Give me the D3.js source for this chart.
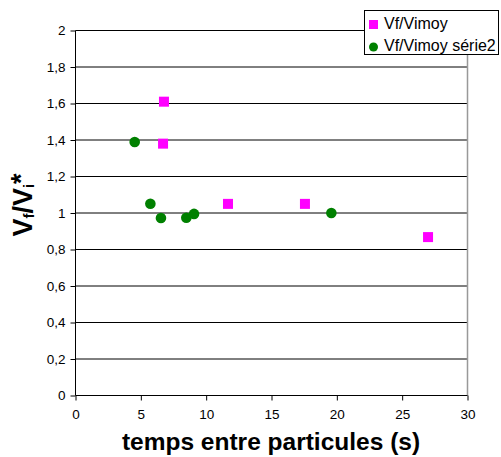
<!DOCTYPE html>
<html><head><meta charset="utf-8">
<script src="https://cdn.jsdelivr.net/npm/d3@7"></script>
<style>body{margin:0;background:#fff}svg{display:block}</style>
</head><body>
<script>
const series1Name = "Vf/Vimoy";
const series1X = [6.77, 6.7, 11.67, 17.56, 26.98];
const series1Y = [1.61, 1.38, 1.05, 1.05, 0.868];
const series2Name = "Vf/Vimoy série2";
const series2X = [4.53, 5.73, 6.54, 8.48, 9.07, 19.58];
const series2Y = [1.389, 1.051, 0.973, 0.974, 0.995, 1.0];
const xTicks = [0, 5, 10, 15, 20, 25, 30];
const yTicks = [0, 0.2, 0.4, 0.6, 0.8, 1, 1.2, 1.4, 1.6, 1.8, 2];

const W = 501, H = 457;
const svg = d3.select("body").append("svg").attr("width", W).attr("height", H);
const x = d3.scaleLinear().domain([0, 30]).range([75.5, 467.5]);
const y = d3.scaleLinear().domain([0, 2]).range([395.5, 30.5]);
const font = "Liberation Sans, Arial, sans-serif";

// gridlines
svg.append("g").selectAll("line").data(yTicks.filter(d => d > 0)).join("line")
  .attr("x1", x(0)).attr("x2", x(30)).attr("y1", d => y(d)).attr("y2", d => y(d))
  .attr("stroke", "#000").attr("stroke-width", 1);
// right border
svg.append("line").attr("x1", x(30)).attr("x2", x(30)).attr("y1", y(2)).attr("y2", y(0))
  .attr("stroke", "#999").attr("stroke-width", 1.5);

const fmt = d => d3.format("~g")(d).replace(".", ",");
const yAxis = svg.append("g").attr("transform", `translate(${x(0)},0)`)
  .call(d3.axisLeft(y).tickValues(yTicks).tickSize(5).tickPadding(5).tickFormat(fmt));
const xAxis = svg.append("g").attr("transform", `translate(0,${y(0)})`)
  .call(d3.axisBottom(x).tickValues(xTicks).tickSize(5).tickPadding(9).tickFormat(d3.format("d")));
[yAxis, xAxis].forEach(a => {
  a.select(".domain").attr("stroke", "#000");
  a.selectAll(".tick line").attr("stroke", "#000");
  a.selectAll("text").attr("font-family", font).attr("font-size", 13.5).attr("fill", "#000");
});
yAxis.select(".domain").attr("d", `M-0,${y(2)}V${y(0)}`);
xAxis.select(".domain").attr("d", `M${x(0)},0H${x(30)}`);

// points
const s = 10;
svg.append("g").selectAll("rect").data(series1X.map((v, i) => [v, series1Y[i]])).join("rect")
  .attr("x", d => x(d[0]) - s / 2).attr("y", d => y(d[1]) - s / 2)
  .attr("width", s).attr("height", s).attr("fill", "#ff00ff");
svg.append("g").selectAll("circle").data(series2X.map((v, i) => [v, series2Y[i]])).join("circle")
  .attr("cx", d => x(d[0])).attr("cy", d => y(d[1])).attr("r", 5.3).attr("fill", "#008000");

// axis titles
svg.append("text").attr("x", 271).attr("y", 450).attr("text-anchor", "middle")
  .attr("font-family", font).attr("font-weight", "bold").attr("font-size", 24.5)
  .text("temps entre particules (s)");
const yt = svg.append("text").attr("transform", "translate(32,205) rotate(-90)")
  .attr("text-anchor", "middle").attr("font-family", font).attr("font-weight", "bold").attr("font-size", 27);
yt.append("tspan").text("V");
yt.append("tspan").attr("font-size", 15).attr("dy", 2).text("f");
yt.append("tspan").attr("dy", -2).text("/V");
yt.append("tspan").attr("font-size", 15).attr("dy", 2).text("i");
yt.append("tspan").attr("dy", -4).text("*");

// legend
const lg = svg.append("g");
lg.append("rect").attr("x", 364.5).attr("y", 10.5).attr("width", 134).attr("height", 44)
  .attr("fill", "#fff").attr("stroke", "#000");
lg.append("rect").attr("x", 369).attr("y", 20).attr("width", 9).attr("height", 9).attr("fill", "#ff00ff");
lg.append("circle").attr("cx", 373.5).attr("cy", 47).attr("r", 4.5).attr("fill", "#008000");
lg.append("text").attr("x", 384).attr("y", 28.7).attr("font-family", font).attr("font-size", 16).text(series1Name);
lg.append("text").attr("x", 384).attr("y", 50.7).attr("font-family", font).attr("font-size", 16).text(series2Name);
</script>
</body></html>
